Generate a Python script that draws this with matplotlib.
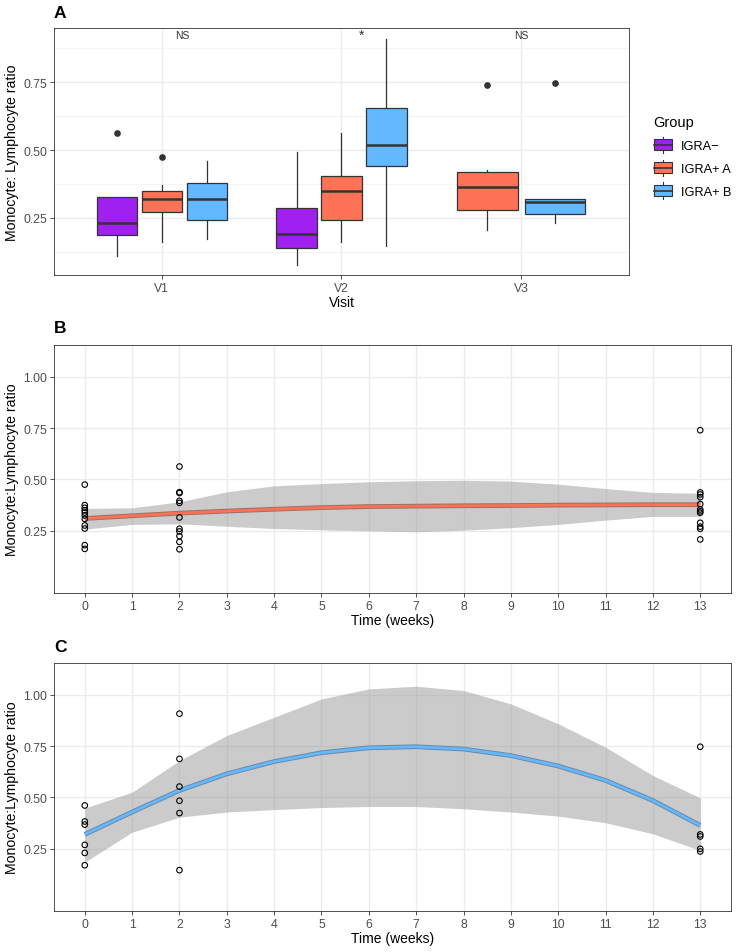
import numpy as np
import matplotlib
matplotlib.use('Agg')
import matplotlib.pyplot as plt
from matplotlib.patches import Patch, Rectangle
from matplotlib.lines import Line2D
from matplotlib.legend_handler import HandlerBase

plt.rcParams['font.family'] = ['Liberation Sans', 'DejaVu Sans']

# ---- Panel A: box summaries by visit (rows: IGRA-, IGRA+ A, IGRA+ B; cols: V1, V2, V3)
visits = ['V1', 'V2', 'V3']
groups = ['IGRA\u2212', 'IGRA+ A', 'IGRA+ B']
group_colors = ['#A020F0', '#FF7256', '#63B8FF']

box_med = [[0.232, 0.191, None], [0.321, 0.349, 0.363], [0.319, 0.519, 0.309]]
box_q1 = [[0.188, 0.141, None], [0.271, 0.242, 0.279], [0.242, 0.440, 0.264]]
box_q3 = [[0.326, 0.288, None], [0.348, 0.403, 0.419], [0.378, 0.654, 0.319]]
box_lo = [[0.109, 0.078, None], [0.162, 0.160, 0.207], [0.172, 0.147, 0.233]]
box_hi = [[0.326, 0.492, None], [0.371, 0.561, 0.428], [0.460, 0.907, 0.319]]
box_out = [[[0.563], [], None], [[0.474], [], [0.739]], [[], [], [0.747]]]

sig_labels = ['NS', '*', 'NS']
sig_x = [1.115, 2.11, 3.0]
sig_y = 0.925

# ---- Panel B: IGRA+ A individual values and smooth
weeks_b0 = [0.475, 0.375, 0.362, 0.350, 0.339, 0.325, 0.308, 0.276, 0.261, 0.180, 0.162]
weeks_b2 = [0.563, 0.438, 0.434, 0.396, 0.386, 0.315, 0.260, 0.247, 0.224, 0.196, 0.160]
weeks_b13 = [0.740, 0.437, 0.427, 0.414, 0.380, 0.354, 0.345, 0.338, 0.289, 0.270, 0.260, 0.208]
fit_x = list(range(14))
fit_b = [0.310, 0.323, 0.336, 0.346, 0.355, 0.363, 0.368, 0.370, 0.372, 0.373, 0.375, 0.376, 0.377, 0.377]
fit_b_lo = [0.258, 0.281, 0.284, 0.272, 0.261, 0.255, 0.250, 0.245, 0.253, 0.265, 0.281, 0.302, 0.320, 0.320]
fit_b_hi = [0.359, 0.362, 0.391, 0.440, 0.469, 0.480, 0.489, 0.494, 0.496, 0.492, 0.477, 0.456, 0.437, 0.433]

# ---- Panel C: IGRA+ B individual values and smooth
weeks_c0 = [0.461, 0.383, 0.368, 0.269, 0.230, 0.170]
weeks_c2 = [0.908, 0.688, 0.553, 0.484, 0.424, 0.146]
weeks_c13 = [0.747, 0.320, 0.310, 0.250, 0.237]
fit_c = [0.320, 0.429, 0.534, 0.615, 0.675, 0.718, 0.742, 0.747, 0.736, 0.704, 0.653, 0.583, 0.485, 0.364]
fit_c_lo = [0.185, 0.331, 0.404, 0.429, 0.441, 0.451, 0.456, 0.456, 0.445, 0.429, 0.409, 0.377, 0.323, 0.242]
fit_c_hi = [0.448, 0.526, 0.680, 0.802, 0.891, 0.980, 1.029, 1.042, 1.021, 0.956, 0.859, 0.745, 0.607, 0.498]

EDGE = '#333333'
GRID = '#EBEBEB'
TICK_C = '#4D4D4D'


def style_axes(ax):
    ax.set_facecolor('white')
    for s in ax.spines.values():
        s.set_color('#333333')
        s.set_linewidth(0.6)
    ax.tick_params(colors=EDGE, labelcolor=TICK_C, labelsize=8.8, length=3, width=0.6,
                   pad=2)
    ax.grid(True, which='major', color=GRID, linewidth=1.0)
    ax.set_axisbelow(True)


class BoxKey(HandlerBase):
    def create_artists(self, legend, orig, xd, yd, width, height, fontsize, trans):
        x0, y0 = -xd, -yd
        cx = x0 + width / 2
        whisk = Line2D([cx, cx], [y0 - 0.25 * height, y0 + 1.25 * height],
                       color=EDGE, lw=0.8, transform=trans)
        rect = Rectangle((x0, y0), width, height, facecolor=orig.get_facecolor(),
                         edgecolor=EDGE, lw=0.8, transform=trans)
        med = Line2D([x0, x0 + width], [y0 + height / 2] * 2, color=EDGE, lw=1.2,
                     transform=trans)
        return [whisk, rect, med]


fig = plt.figure(figsize=(7.38, 9.53), dpi=100)

# ================= Panel A =================
axA = fig.add_axes([54 / 738, 1 - 276 / 953, 575 / 738, 247 / 953])
style_axes(axA)
for vi in range(len(visits)):
    present = [gi for gi in range(len(groups)) if box_med[gi][vi] is not None]
    slot = 0.75 / len(present)
    for k, gi in enumerate(present):
        pos = vi + 1 - 0.375 + slot * (k + 0.5)
        stats = [dict(med=box_med[gi][vi], q1=box_q1[gi][vi], q3=box_q3[gi][vi],
                      whislo=box_lo[gi][vi], whishi=box_hi[gi][vi],
                      fliers=box_out[gi][vi])]
        axA.bxp(stats, positions=[pos], widths=slot * 0.9, showcaps=False,
                patch_artist=True, manage_ticks=False,
                boxprops=dict(facecolor=group_colors[gi], edgecolor=EDGE, linewidth=0.9),
                medianprops=dict(color=EDGE, linewidth=1.8),
                whiskerprops=dict(color=EDGE, linewidth=0.9),
                flierprops=dict(marker='o', markerfacecolor=EDGE, markeredgecolor=EDGE,
                                markersize=3.8))
for lab, x in zip(sig_labels, sig_x):
    axA.text(x, sig_y, lab, ha='center', va='center',
             fontsize=10 if lab == '*' else 7.5, color=EDGE)
axA.set_xlim(0.4, 3.6)
axA.set_ylim(0.04, 0.949)
axA.set_xticks([1, 2, 3])
axA.set_xticklabels(visits)
axA.set_yticks([0.25, 0.50, 0.75])
axA.set_yticks([0.125, 0.375, 0.625, 0.875], minor=True)
axA.tick_params(which='minor', length=0)
axA.grid(True, which='minor', axis='y', color='#F4F4F4', linewidth=0.8)
axA.set_xlabel('Visit', fontsize=10, labelpad=1)
axA.set_ylabel('Monocyte: Lymphocyte ratio', fontsize=10.2, labelpad=3)
fig.text(54 / 738, 1 - 14 / 953, 'A', fontsize=12.5, fontweight='bold', va='center')

handles = [Patch(facecolor=c, edgecolor=EDGE) for c in group_colors]
fig.legend(handles, groups, handler_map={Patch: BoxKey()}, title='Group',
           loc='upper left', bbox_to_anchor=(642 / 738, 1 - 105 / 953),
           frameon=False, fontsize=9.2, title_fontsize=10.5, alignment='left',
           handlelength=1.45, handleheight=0.95, labelspacing=0.78, handletextpad=0.7)


# ================= Panels B and C =================
def time_panel(rect, w0, w2, w13, fit, lo, hi, color, outline, letter):
    ax = fig.add_axes(rect)
    style_axes(ax)
    ax.fill_between(fit_x, lo, hi, color='#999999', alpha=0.5, linewidth=0, zorder=2)
    ax.plot(fit_x, fit, color=outline, lw=3.4, solid_capstyle='butt', zorder=3)
    ax.plot(fit_x, fit, color=color, lw=2.0, solid_capstyle='butt', zorder=4)
    for wk, vals in zip([0, 2, 13], [w0, w2, w13]):
        ax.scatter([wk] * len(vals), vals, s=16, facecolors='none', edgecolors='black',
                   linewidths=0.8, zorder=5)
    ax.set_xlim(-0.65, 13.65)
    ax.set_ylim(-0.053, 1.155)
    ax.set_xticks(range(14))
    ax.set_yticks([0.25, 0.50, 0.75, 1.00])
    ax.set_yticklabels(['0.25', '0.50', '0.75', '1.00'])
    ax.set_xlabel('Time (weeks)', fontsize=10, labelpad=1)
    ax.set_ylabel('Monocyte:Lymphocyte ratio', fontsize=10.2, labelpad=3)
    x0 = rect[0]
    top = rect[1] + rect[3]
    fig.text(x0, top + 17 / 953, letter, fontsize=12.5, fontweight='bold', va='center')
    return ax


time_panel([54 / 738, 1 - 594 / 953, 677 / 738, 248 / 953],
           weeks_b0, weeks_b2, weeks_b13, fit_b, fit_b_lo, fit_b_hi,
           '#FF7256', '#9A6F66', 'B')
time_panel([54 / 738, 1 - 912 / 953, 677 / 738, 248 / 953],
           weeks_c0, weeks_c2, weeks_c13, fit_c, fit_c_lo, fit_c_hi,
           '#63B8FF', '#6A88A3', 'C')

fig.savefig('out.png', dpi=100)
